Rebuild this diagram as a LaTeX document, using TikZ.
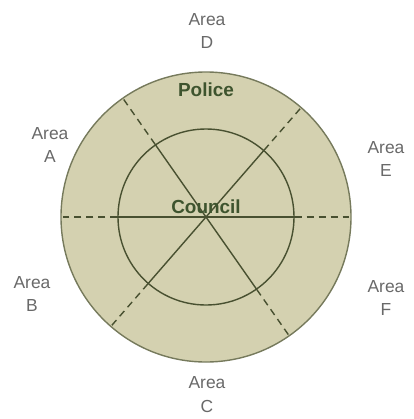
\documentclass[tikz,border=0pt]{standalone}
\usepackage{fontspec}
\setmainfont{Liberation Sans}
\usetikzlibrary{positioning}
\definecolor{ring}{RGB}{212,209,176}
\definecolor{rim}{RGB}{118,122,92}
\definecolor{spoke}{RGB}{72,80,48}
\definecolor{title}{RGB}{62,84,46}
\definecolor{areatext}{RGB}{105,105,105}
\tikzset{
  zone/.style={circle, draw=#1, line width=1.4pt, inner sep=0pt},
  lead/.style={font=\fontsize{19}{20}\selectfont\bfseries, text=title},
  area/.style={font=\fontsize{17.5}{24}\selectfont, text=areatext, align=center},
  inside/.style={spoke, line width=1.4pt},
  outside/.style={spoke, line width=1.4pt, dash pattern=on 7pt off 5pt},
}

\begin{document}
\begin{tikzpicture}[x=1bp, y=-1bp]
  \useasboundingbox (0,0) rectangle (414,419);
  % the two rings
  \node[zone=rim, fill=ring, minimum size=290bp] (police) at (206,217) {};
  \node[zone=spoke, minimum size=176bp] (council) at (206,217) {};
  \coordinate (hub) at (206,217);

  % spokes: solid inside the council ring, dashed out to the police ring
  \foreach \a in {0,49,125,180,229,305} {
    \draw[inside] (hub) -- (council.\a);
    \draw[outside] (council.\a) -- (police.\a);
  }

  \node[lead] (policelbl) at (206,90) {Police};
  \node[lead] (councillbl) at (206,207) {Council};

  % areas round the outside
  \node[area] (areaD) at (207,31) {Area\\D};
  \node[area] (areaA) at (50,145) {Area\\A};
  \node[area] (areaB) at (32,294) {Area\\B};
  \node[area] (areaE) at (386,159) {Area\\E};
  \node[area] (areaF) at (386,298) {Area\\F};
  \node[area] (areaC) at (207,395) {Area\\C};
\end{tikzpicture}
\end{document}
